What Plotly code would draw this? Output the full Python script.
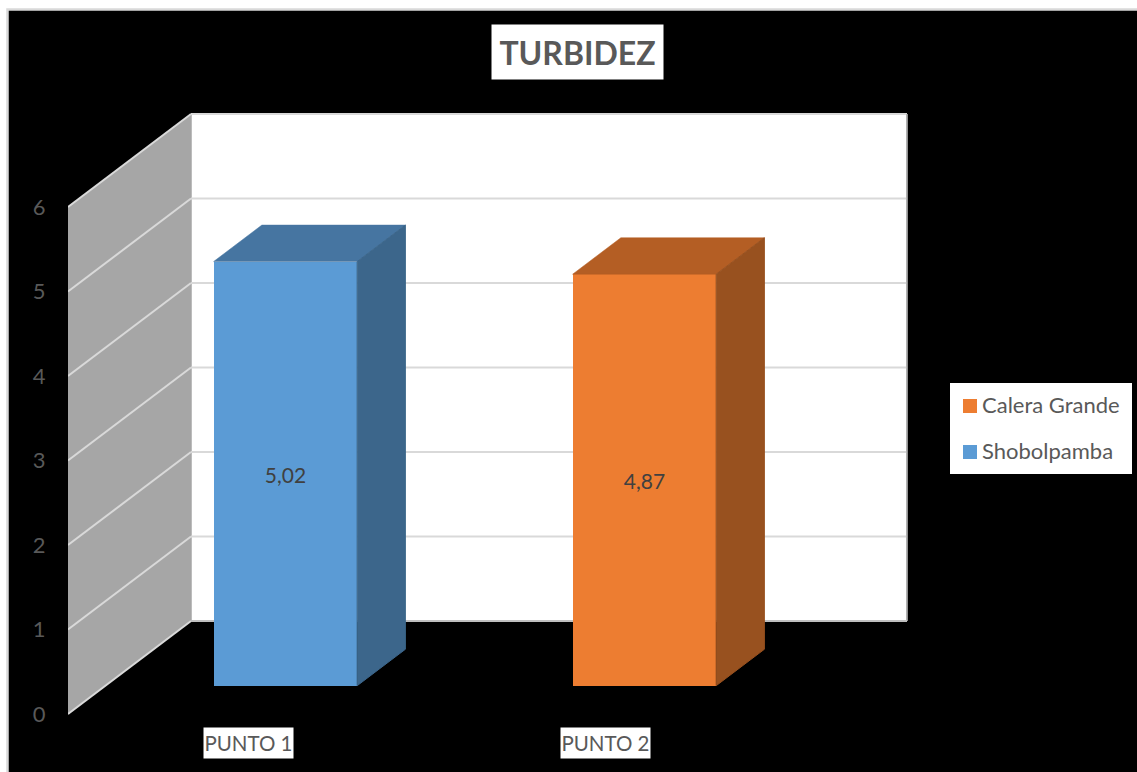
import plotly.graph_objects as go

# Chart content
categories = ["PUNTO 1", "PUNTO 2"]
series_names = ["Shobolpamba", "Calera Grande"]
series_values = [5.02, 4.87]
y_ticks = [0, 1, 2, 3, 4, 5, 6]
legend_order = ["Calera Grande", "Shobolpamba"]

# Canvas and scale
WIDTH, HEIGHT = 1137, 772
LEFT = 68
PX_PER_CATEGORY = 359.0
PX_PER_UNIT = 84.5
CAT_ZERO_PX = 248.0
VALUE_ZERO_PX = 714.0

# Oblique projection: depth 1 is the full distance from front edge to back wall
DEPTH_X = 123.0 / PX_PER_CATEGORY
DEPTH_Y = 93.0 / PX_PER_UNIT
BAR_FRONT = 0.304
BAR_BACK = 0.696
BAR_WIDTH = 143.5 / PX_PER_CATEGORY

FONT = "Lato, Carlito, Calibri, sans-serif"
TEXT = "#595959"
BLUE = {"front": "#5b9bd5", "top": "#4675a1", "side": "#3c668b"}
ORANGE = {"front": "#ed7d31", "top": "#b45e24", "side": "#98511f"}
FACES = [BLUE, ORANGE]


def px_x(p):
    return (p - LEFT) / (WIDTH - LEFT)


def px_y(p):
    return 1 - p / HEIGHT


def project(x, y, depth):
    return x + depth * DEPTH_X, y + depth * DEPTH_Y


x_range = [(LEFT - CAT_ZERO_PX) / PX_PER_CATEGORY, (WIDTH - CAT_ZERO_PX) / PX_PER_CATEGORY]
y_range = [(VALUE_ZERO_PX - HEIGHT) / PX_PER_UNIT, VALUE_ZERO_PX / PX_PER_UNIT]


def polygon_path(points):
    return "M" + " L".join(f"{x},{y}" for x, y in points) + " Z"


shapes = [
    # Dark chart area with its light outline on the left and top
    dict(type="rect", xref="paper", yref="paper", layer="below",
         x0=px_x(7.5), x1=px_x(WIDTH + 20), y0=px_y(HEIGHT + 20), y1=px_y(9.5),
         fillcolor="#000000", line=dict(color="#d9d9d9", width=2.5)),
]

wall_x = x_range[0]
right_x = (907.0 - CAT_ZERO_PX) / PX_PER_CATEGORY
back_left = project(wall_x, y_ticks[0], 1)
back_top = project(wall_x, y_ticks[-1], 1)

# Back wall
shapes.append(dict(type="path", layer="below", xref="x", yref="y",
                   path=polygon_path([back_left, back_top,
                                      (right_x, back_top[1]), (right_x, back_left[1])]),
                   fillcolor="#ffffff", line=dict(color="#a6a6a6", width=1)))
# Side wall
shapes.append(dict(type="path", layer="below", xref="x", yref="y",
                   path=polygon_path([(wall_x, y_ticks[0]), back_left, back_top,
                                      (wall_x, y_ticks[-1])]),
                   fillcolor="#a6a6a6", line=dict(color="#a6a6a6", width=1)))
# Gridlines run along the side wall and across the back wall
for tick in y_ticks:
    bx, by = project(wall_x, tick, 1)
    shapes.append(dict(type="line", layer="below", xref="x", yref="y",
                       x0=wall_x, y0=tick, x1=bx, y1=by,
                       line=dict(color="#d9d9d9", width=2)))
    shapes.append(dict(type="line", layer="below", xref="x", yref="y",
                       x0=bx, y0=by, x1=right_x, y1=by,
                       line=dict(color="#d9d9d9", width=2)))
# Lower edge and right edge of the back wall
shapes.append(dict(type="line", layer="below", xref="x", yref="y",
                   x0=right_x, y0=back_left[1], x1=right_x, y1=back_top[1],
                   line=dict(color="#a6a6a6", width=1.5)))
shapes.append(dict(type="line", layer="below", xref="x", yref="y",
                   x0=back_left[0], y0=back_left[1], x1=right_x, y1=back_left[1],
                   line=dict(color="#bfbfbf", width=2)))

fig = go.Figure()

# Front faces of the columns, with top and side faces projected from the same values
for i, (name, value, face) in enumerate(zip(series_names, series_values, FACES)):
    fx, fy = project(i, 0, BAR_FRONT)
    fig.add_trace(go.Bar(
        x=[fx], y=[value], base=[fy], width=[BAR_WIDTH], name=name,
        marker=dict(color=face["front"], line=dict(width=0)),
        text=[f"{value:.2f}".replace(".", ",")], textposition="inside",
        insidetextanchor="middle", textangle=0, constraintext="none",
        textfont=dict(family=FONT, size=21, color="#404040"),
        showlegend=False, hoverinfo="skip",
    ))
    left = fx - BAR_WIDTH / 2
    right = fx + BAR_WIDTH / 2
    dx = (BAR_BACK - BAR_FRONT) * DEPTH_X
    dy = (BAR_BACK - BAR_FRONT) * DEPTH_Y
    top = fy + value
    fig.add_trace(go.Scatter(
        x=[left, right, right + dx, left + dx, left],
        y=[top, top, top + dy, top + dy, top],
        mode="lines", fill="toself", fillcolor=face["top"],
        line=dict(color=face["top"], width=0.5), showlegend=False, hoverinfo="skip",
    ))
    fig.add_trace(go.Scatter(
        x=[right, right + dx, right + dx, right, right],
        y=[fy, fy + dy, top + dy, top, fy],
        mode="lines", fill="toself", fillcolor=face["side"],
        line=dict(color=face["side"], width=1), showlegend=False, hoverinfo="skip",
    ))

annotations = [
    dict(text="<b>TURBIDEZ</b>", xref="paper", yref="paper",
         x=px_x(577.5), y=px_y(52), xanchor="center", yanchor="middle",
         width=169, height=52, bgcolor="#ffffff", showarrow=False,
         font=dict(family=FONT, size=32, color=TEXT)),
]
# Category labels sit on the front edge of the floor
for i, label in enumerate(categories):
    annotations.append(dict(text=label, xref="x", yref="paper", x=i, y=px_y(743),
                            xanchor="center", yanchor="middle", xshift=-1.5 * i,
                            width=87, height=28, bgcolor="#ffffff", showarrow=False,
                            font=dict(family=FONT, size=20.5, color=TEXT)))

# Legend box
shapes.append(dict(type="rect", xref="paper", yref="paper", layer="above",
                   x0=px_x(950), x1=px_x(1132), y0=px_y(474), y1=px_y(383),
                   fillcolor="#ffffff", line=dict(width=0)))
legend_colors = {"Calera Grande": ORANGE["front"], "Shobolpamba": BLUE["front"]}
for row_y, name in zip([406, 452], legend_order):
    shapes.append(dict(type="rect", xref="paper", yref="paper", layer="above",
                       x0=px_x(963), x1=px_x(977), y0=px_y(row_y + 7), y1=px_y(row_y - 7),
                       fillcolor=legend_colors[name], line=dict(width=0)))
    annotations.append(dict(text=name, xref="paper", yref="paper",
                            x=px_x(980), y=px_y(row_y - 1.5), xanchor="left", yanchor="middle",
                            showarrow=False, font=dict(family=FONT, size=22, color=TEXT)))

fig.update_layout(
    width=WIDTH, height=HEIGHT,
    margin=dict(l=LEFT, r=0, t=0, b=0),
    paper_bgcolor="#ffffff", plot_bgcolor="rgba(0,0,0,0)",
    shapes=shapes, annotations=annotations,
    showlegend=False, bargap=0,
    xaxis=dict(range=x_range, showgrid=False, zeroline=False, showline=False,
               showticklabels=False, ticks=""),
    yaxis=dict(range=y_range, tickmode="array", tickvals=y_ticks,
               ticktext=[str(t) for t in y_ticks],
               showgrid=False, zeroline=False, showline=False,
               ticks="outside", ticklen=17, tickcolor="rgba(0,0,0,0)",
               tickfont=dict(family=FONT, size=22, color=TEXT)),
)

fig.write_html("out.html", config=dict(displayModeBar=False))
